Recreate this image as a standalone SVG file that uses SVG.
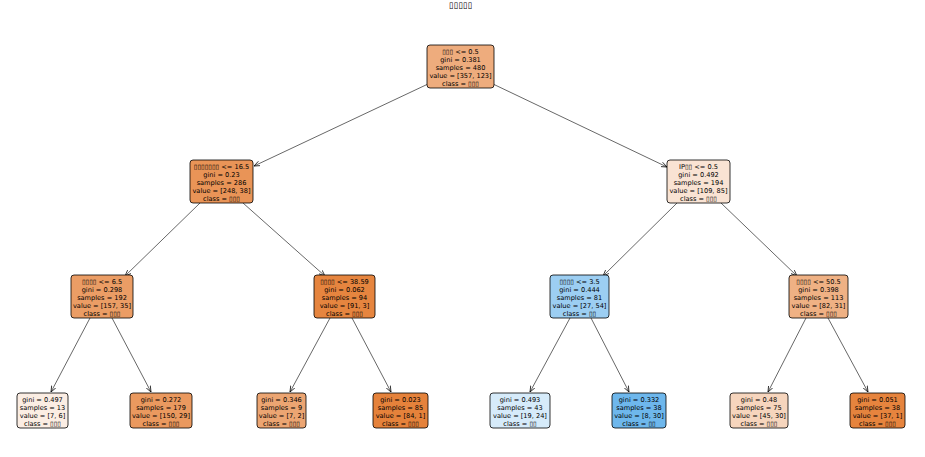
<svg xmlns="http://www.w3.org/2000/svg" width="925" height="457" viewBox="0 0 925 457">
<defs>
<marker id="ah" viewBox="0 0 10 10" refX="10" refY="5" markerWidth="6" markerHeight="6" orient="auto" markerUnits="userSpaceOnUse">
<path d="M0,1 L10,5 L0,9" fill="none" stroke="#000" stroke-width="1.2"/>
</marker>
<style>
.b{stroke:#000;stroke-width:0.8}
.t{font-family:"DejaVu Sans","Liberation Sans",sans-serif;font-size:6.6px;fill:#000;text-anchor:middle}
.e{stroke:#000;stroke-width:0.6;fill:none;marker-end:url(#ah)}
.title{font-family:"DejaVu Sans","Liberation Sans",sans-serif;font-size:8.5px;fill:#000;text-anchor:middle}
</style>
</defs>
<rect width="925" height="457" fill="#fff"/>
<text class="title" x="460.5" y="8">▯▯▯▯▯</text>
<g id="edges">
<line class="e" x1="428" y1="84" x2="254" y2="166"/>
<line class="e" x1="493" y1="84" x2="667" y2="167"/>
<line class="e" x1="200" y1="203" x2="125" y2="276"/>
<line class="e" x1="243" y1="203" x2="325" y2="276"/>
<line class="e" x1="677" y1="203" x2="603" y2="276"/>
<line class="e" x1="721" y1="203" x2="797" y2="276"/>
<line class="e" x1="90" y1="318" x2="51" y2="392"/>
<line class="e" x1="112" y1="318" x2="151" y2="392"/>
<line class="e" x1="330" y1="318" x2="290" y2="392"/>
<line class="e" x1="352" y1="318" x2="391" y2="392"/>
<line class="e" x1="570" y1="318" x2="530" y2="392"/>
<line class="e" x1="591" y1="318" x2="629" y2="392"/>
<line class="e" x1="806" y1="318" x2="768" y2="392"/>
<line class="e" x1="828" y1="318" x2="868" y2="392"/>
</g>
<g id="n0"><rect class="b" x="427" y="45" width="67" height="43" rx="3" fill="#eeac7d"/>
<text class="t" x="460.5" y="53.5">▯▯▯ &lt;= 0.5</text><text class="t" x="460.5" y="61.8">gini = 0.381</text><text class="t" x="460.5" y="70.1">samples = 480</text><text class="t" x="460.5" y="78.4">value = [357, 123]</text><text class="t" x="460.5" y="86.2">class = ▯▯▯</text></g>
<g id="n1"><rect class="b" x="190" y="160" width="63" height="43" rx="3" fill="#e99457"/>
<text class="t" x="221.5" y="168.5">▯▯▯▯▯▯▯ &lt;= 16.5</text><text class="t" x="221.5" y="176.8">gini = 0.23</text><text class="t" x="221.5" y="185.1">samples = 286</text><text class="t" x="221.5" y="193.4">value = [248, 38]</text><text class="t" x="221.5" y="201.2">class = ▯▯▯</text></g>
<g id="n2"><rect class="b" x="667" y="160" width="63" height="43" rx="3" fill="#f9e3d3"/>
<text class="t" x="698.5" y="168.5">IP▯▯ &lt;= 0.5</text><text class="t" x="698.5" y="176.8">gini = 0.492</text><text class="t" x="698.5" y="185.1">samples = 194</text><text class="t" x="698.5" y="193.4">value = [109, 85]</text><text class="t" x="698.5" y="201.2">class = ▯▯▯</text></g>
<g id="n3"><rect class="b" x="71" y="275" width="62" height="43" rx="3" fill="#eb9d65"/>
<text class="t" x="102" y="283.5">▯▯▯▯ &lt;= 6.5</text><text class="t" x="102" y="291.8">gini = 0.298</text><text class="t" x="102" y="300.1">samples = 192</text><text class="t" x="102" y="308.4">value = [157, 35]</text><text class="t" x="102" y="316.2">class = ▯▯▯</text></g>
<g id="n4"><rect class="b" x="314" y="275" width="61" height="43" rx="3" fill="#e6853f"/>
<text class="t" x="344.5" y="283.5">▯▯▯▯ &lt;= 38.59</text><text class="t" x="344.5" y="291.8">gini = 0.062</text><text class="t" x="344.5" y="300.1">samples = 94</text><text class="t" x="344.5" y="308.4">value = [91, 3]</text><text class="t" x="344.5" y="316.2">class = ▯▯▯</text></g>
<g id="n5"><rect class="b" x="550" y="275" width="59" height="43" rx="3" fill="#9ccef2"/>
<text class="t" x="579.5" y="283.5">▯▯▯▯ &lt;= 3.5</text><text class="t" x="579.5" y="291.8">gini = 0.444</text><text class="t" x="579.5" y="300.1">samples = 81</text><text class="t" x="579.5" y="308.4">value = [27, 54]</text><text class="t" x="579.5" y="316.2">class = ▯▯</text></g>
<g id="n6"><rect class="b" x="789" y="275" width="59" height="43" rx="3" fill="#efb184"/>
<text class="t" x="818.5" y="283.5">▯▯▯▯ &lt;= 50.5</text><text class="t" x="818.5" y="291.8">gini = 0.398</text><text class="t" x="818.5" y="300.1">samples = 113</text><text class="t" x="818.5" y="308.4">value = [82, 31]</text><text class="t" x="818.5" y="316.2">class = ▯▯▯</text></g>
<g id="n7"><rect class="b" x="17" y="393" width="51" height="35" rx="3" fill="#fbede3"/>
<text class="t" x="42.5" y="401.5">gini = 0.497</text><text class="t" x="42.5" y="409.8">samples = 13</text><text class="t" x="42.5" y="418.1">value = [7, 6]</text><text class="t" x="42.5" y="426.2">class = ▯▯▯</text></g>
<g id="n8"><rect class="b" x="130" y="393" width="62" height="35" rx="3" fill="#ea995f"/>
<text class="t" x="161" y="401.5">gini = 0.272</text><text class="t" x="161" y="409.8">samples = 179</text><text class="t" x="161" y="418.1">value = [150, 29]</text><text class="t" x="161" y="426.2">class = ▯▯▯</text></g>
<g id="n9"><rect class="b" x="257" y="393" width="49" height="35" rx="3" fill="#eca572"/>
<text class="t" x="281.5" y="401.5">gini = 0.346</text><text class="t" x="281.5" y="409.8">samples = 9</text><text class="t" x="281.5" y="418.1">value = [7, 2]</text><text class="t" x="281.5" y="426.2">class = ▯▯▯</text></g>
<g id="n10"><rect class="b" x="373" y="393" width="55" height="35" rx="3" fill="#e5823b"/>
<text class="t" x="400.5" y="401.5">gini = 0.023</text><text class="t" x="400.5" y="409.8">samples = 85</text><text class="t" x="400.5" y="418.1">value = [84, 1]</text><text class="t" x="400.5" y="426.2">class = ▯▯▯</text></g>
<g id="n11"><rect class="b" x="490" y="393" width="60" height="35" rx="3" fill="#d6ebfa"/>
<text class="t" x="520" y="401.5">gini = 0.493</text><text class="t" x="520" y="409.8">samples = 43</text><text class="t" x="520" y="418.1">value = [19, 24]</text><text class="t" x="520" y="426.2">class = ▯▯</text></g>
<g id="n12"><rect class="b" x="612" y="393" width="54" height="35" rx="3" fill="#6eb7ec"/>
<text class="t" x="639" y="401.5">gini = 0.332</text><text class="t" x="639" y="409.8">samples = 38</text><text class="t" x="639" y="418.1">value = [8, 30]</text><text class="t" x="639" y="426.2">class = ▯▯</text></g>
<g id="n13"><rect class="b" x="730" y="393" width="58" height="35" rx="3" fill="#f6d5bd"/>
<text class="t" x="759" y="401.5">gini = 0.48</text><text class="t" x="759" y="409.8">samples = 75</text><text class="t" x="759" y="418.1">value = [45, 30]</text><text class="t" x="759" y="426.2">class = ▯▯▯</text></g>
<g id="n14"><rect class="b" x="850" y="393" width="55" height="35" rx="3" fill="#e6843e"/>
<text class="t" x="877.5" y="401.5">gini = 0.051</text><text class="t" x="877.5" y="409.8">samples = 38</text><text class="t" x="877.5" y="418.1">value = [37, 1]</text><text class="t" x="877.5" y="426.2">class = ▯▯▯</text></g>
</svg>
